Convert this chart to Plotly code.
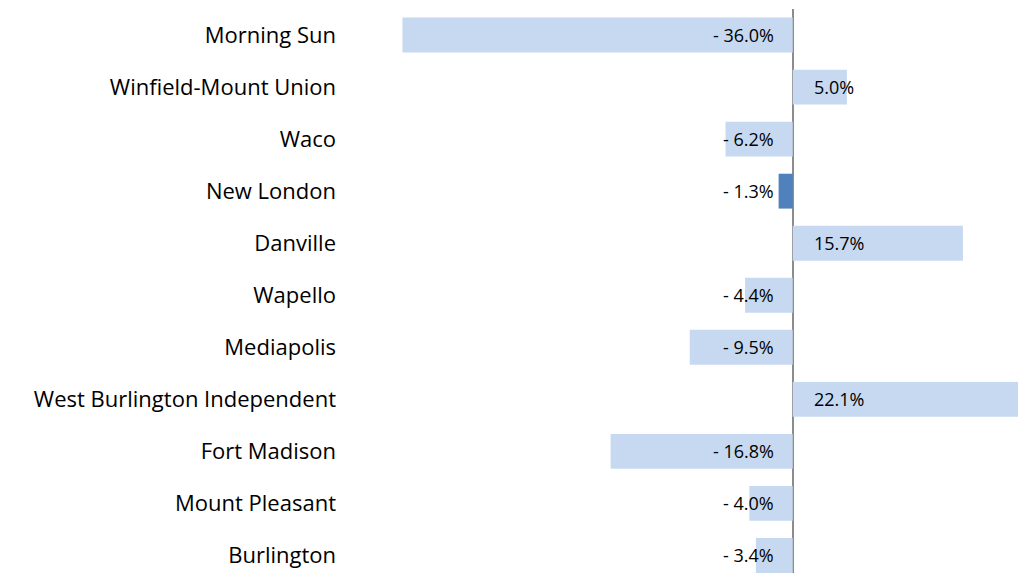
import plotly.graph_objects as go

categories = ["Morning Sun", "Winfield-Mount Union", "Waco", "New London", "Danville",
              "Wapello", "Mediapolis", "West Burlington Independent", "Fort Madison",
              "Mount Pleasant", "Burlington"]
values = [-36.0, 5.0, -6.2, -1.3, 15.7, -4.4, -9.5, 22.1, -16.8, -4.0, -3.4]
highlight = "New London"

LIGHT = "#C6D9F1"
DARK = "#4F81BD"
FONT = "Open Sans"

colors = [DARK if c == highlight else LIGHT for c in categories]

fig = go.Figure()
fig.add_trace(go.Bar(
    x=values, y=categories, orientation="h",
    marker=dict(color=colors, line=dict(width=0)),
    hoverinfo="skip",
))

def fmt(v):
    return f"- {abs(v):.1f}%" if v < 0 else f"{v:.1f}%"

annotations = []
for c, v in zip(categories, values):
    annotations.append(dict(
        x=0, y=c, xref="x", yref="y", text=fmt(v), showarrow=False,
        xanchor="right" if v < 0 else "left",
        xshift=-17 if v < 0 else 19,
        font=dict(family=FONT, size=18, color="#000000"),
    ))

fig.update_layout(
    width=1018, height=573,
    margin=dict(l=345, r=0, t=9, b=0, pad=0),
    paper_bgcolor="white", plot_bgcolor="white",
    bargap=0.33,
    showlegend=False,
    annotations=annotations,
    xaxis=dict(range=[-41.3, 20.78], showgrid=False, zeroline=True,
               zerolinecolor="#8C8C8C", zerolinewidth=2, showticklabels=False,
               ticks="", fixedrange=True),
    yaxis=dict(type="category", categoryorder="array", categoryarray=categories,
               range=[10.337, -0.5], showgrid=False, ticks="",
               tickfont=dict(family=FONT, size=22, color="#000000"),
               ticklabelstandoff=8, fixedrange=True),
)

fig.write_html("out.html", config={"displayModeBar": False},
               post_script="document.body.style.margin='0';document.body.style.overflow='hidden';")
